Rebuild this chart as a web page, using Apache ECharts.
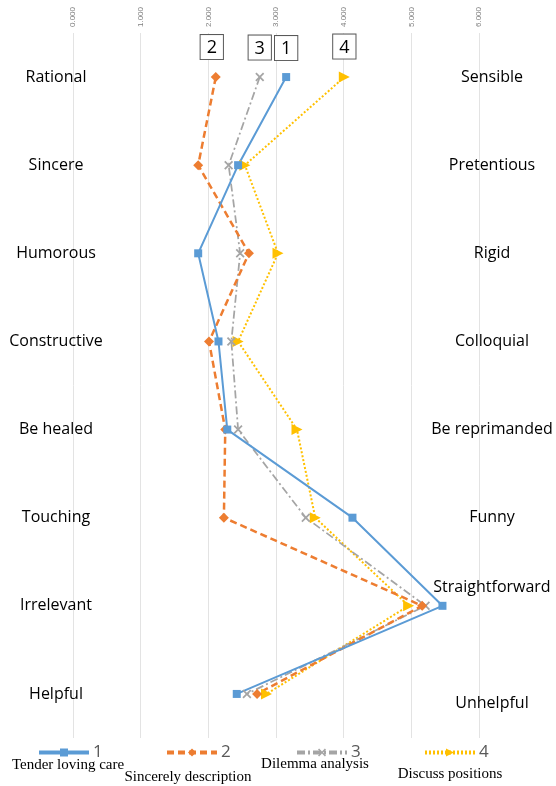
<!DOCTYPE html>
<html>
<head>
<meta charset="utf-8">
<script src="https://cdn.jsdelivr.net/npm/echarts@6/dist/echarts.min.js"></script>
<style>html,body{margin:0;padding:0;background:#fff;}#c{width:556px;height:786px;}</style>
</head>
<body>
<div id="c"></div>
<script>
var leftLabels = ['Rational','Sincere','Humorous','Constructive','Be healed','Touching','Irrelevant','Helpful'];
var rightLabels = ['Sensible','Pretentious','Rigid','Colloquial','Be reprimanded','Funny','Straightforward','Unhelpful'];
var xTicks = ['0.000','1.000','2.000','3.000','4.000','5.000','6.000'];
var seriesNames = ['1','2','3','4'];
var seriesDesc = ['Tender loving care','Sincerely description','Dilemma analysis','Discuss positions'];
var s1 = [3.15, 2.44, 1.85, 2.15, 2.28, 4.13, 5.46, 2.42];
var s2 = [2.11, 1.85, 2.60, 2.01, 2.25, 2.23, 5.16, 2.72];
var s3 = [2.76, 2.30, 2.47, 2.34, 2.44, 3.44, 5.21, 2.57];
var s4 = [4.01, 2.54, 3.03, 2.44, 3.31, 3.58, 4.96, 2.86];

var colors = ['#5B9BD5','#ED7D31','#A5A5A5','#FFC000'];
var xSym = 'path://M0,1.4L1.4,0L5,3.6L8.6,0L10,1.4L6.4,5L10,8.6L8.6,10L5,6.4L1.4,10L0,8.6L3.6,5Z';

function pairs(arr){ return arr.map(function(v,i){ return [v, leftLabels[i]]; }); }

var boxLabel = {
  show: true, position: 'top', distance: 13, color: '#000', fontSize: 18,
  fontFamily: 'Open Sans', borderColor: '#595959', borderWidth: 1,
  padding: [4, 6, 2, 6], backgroundColor: '#fff',
  formatter: function(p){ return p.seriesName; }
};

function mk(idx, data, symbol, size, lineType, width, extra){
  var d = pairs(data);
  var lbl = Object.assign({}, boxLabel);
  if (idx === 1) lbl.offset = [-4, 0];
  d[0] = {value: d[0], label: lbl};
  return Object.assign({
    name: seriesNames[idx], type: 'line', data: d,
    symbol: symbol, symbolSize: size,
    lineStyle: {color: colors[idx], width: width, type: lineType},
    itemStyle: {color: colors[idx]},
    emphasis: {disabled: true}, animation: false
  }, extra || {});
}

var chart = echarts.init(document.getElementById('c'), null, {renderer: 'canvas'});
var legends = [
  {left: 32, i: 0}, {left: 160, i: 1}, {left: 290, i: 2}, {left: 418, i: 3}
].map(function(o){
  return {
    data: [seriesNames[o.i]], left: o.left, top: 739, itemWidth: 50, itemHeight: 10,
    itemGap: 0, textStyle: {fontSize: 17, color: '#595959', fontFamily: 'Open Sans', padding: [0,0,0,-1]},
    lineStyle: {width: 4}, selectedMode: false
  };
});

var descPos = [[68, 765], [188, 777], [315, 764], [450, 774]];
var graphics = seriesDesc.map(function(t, i){
  return {type: 'text', x: descPos[i][0], y: descPos[i][1],
    style: {text: t, fontFamily: 'Liberation Serif', fontSize: 15, fill: '#000',
      textAlign: 'center', textVerticalAlign: 'middle'}};
});

var labelFont = {fontSize: 16, color: '#000', fontFamily: 'Open Sans'};

chart.setOption({
  animation: false,
  grid: {left: 73, right: 77, top: 33, bottom: 48, containLabel: false},
  xAxis: {
    type: 'value', position: 'top', min: 0, max: 6, interval: 1,
    axisLine: {show: false}, axisTick: {show: false},
    splitLine: {show: true, lineStyle: {color: '#E3E3E3', width: 1}},
    axisLabel: {rotate: -90, fontSize: 8, color: '#7F7F7F', margin: 6,
      fontFamily: 'Liberation Sans',
      formatter: function(v){ return xTicks[Math.round(v)]; }}
  },
  yAxis: [{
    type: 'category', data: leftLabels, inverse: true, position: 'left',
    axisLine: {show: false}, axisTick: {show: false}, splitLine: {show: false},
    axisLabel: Object.assign({margin: 17, align: 'center'}, labelFont)
  }, {
    type: 'category', data: rightLabels, inverse: true, position: 'right',
    axisLine: {show: false}, axisTick: {show: false}, splitLine: {show: false},
    axisLabel: Object.assign({margin: 13, align: 'center',
      formatter: function(v){
        if (v === 'Straightforward') return '{up|' + v + '}';
        if (v === 'Unhelpful') return '{dn|' + v + '}';
        return v;
      },
      rich: {up: Object.assign({padding: [0,0,36,0]}, labelFont),
             dn: Object.assign({padding: [18,0,0,0]}, labelFont)}}, labelFont)
  }],
  legend: legends,
  graphic: graphics,
  series: [
    mk(3, s4, 'triangle', 11, [2,2], 2, {symbolRotate: -90}),
    mk(2, s3, xSym, 9, [8,3,2,3], 1.75),
    mk(1, s2, 'diamond', 10, [7,4], 2.5),
    mk(0, s1, 'rect', 8, 'solid', 2)
  ]
});
</script>
</body>
</html>
